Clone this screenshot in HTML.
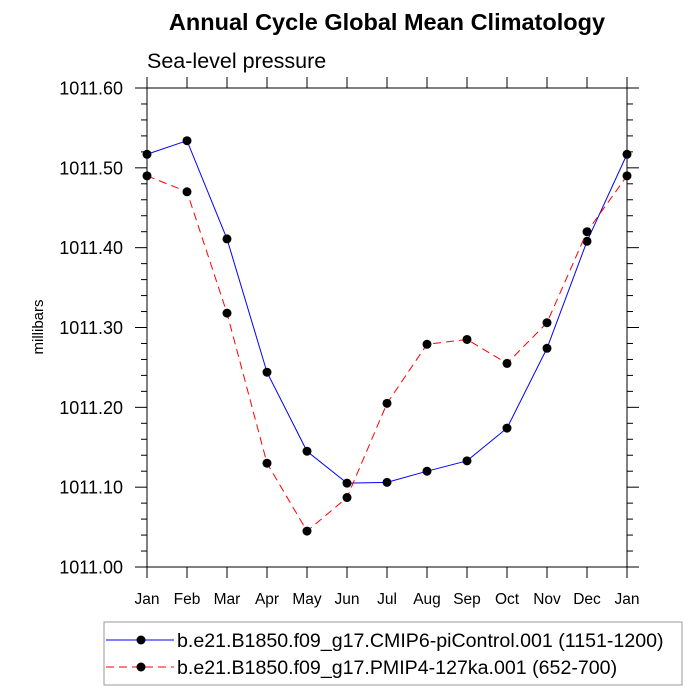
<!DOCTYPE html>
<html><head><meta charset="utf-8"><style>
body{margin:0;background:#fff;}
svg{display:block;font-family:"Liberation Sans",sans-serif;}
</style></head><body>
<svg id="chart" width="700" height="700">
<text x="387" y="30" text-anchor="middle" font-size="23.5" font-weight="bold">Annual Cycle Global Mean Climatology</text>
<text x="147" y="68" font-size="21.5">Sea-level pressure</text>
<text transform="translate(43,327) rotate(-90)" text-anchor="middle" font-size="15">millibars</text>
<g id="axes"></g>
<g id="series"></g>
<g>
<rect x="104" y="622" width="578" height="63" fill="none" stroke="#999" stroke-width="1"/>
<line x1="106" y1="640" x2="174" y2="640" stroke="#00f" stroke-width="1"/>
<circle cx="141" cy="640" r="4.5" fill="#000"/>
<text x="177" y="647" font-size="19.6">b.e21.B1850.f09_g17.CMIP6-piControl.001 (1151-1200)</text>
<line x1="106" y1="667" x2="174" y2="667" stroke="#f00" stroke-width="1" stroke-dasharray="8,5"/>
<circle cx="141" cy="667" r="4.5" fill="#000"/>
<text x="177" y="674" font-size="19.6">b.e21.B1850.f09_g17.PMIP4-127ka.001 (652-700)</text>
</g>
</svg>
<script>
const months=["Jan","Feb","Mar","Apr","May","Jun","Jul","Aug","Sep","Oct","Nov","Dec","Jan"];
const piControl=[1011.517,1011.534,1011.411,1011.244,1011.145,1011.105,1011.106,1011.120,1011.133,1011.174,1011.274,1011.408,1011.517];
const ka127=[1011.490,1011.470,1011.318,1011.130,1011.045,1011.087,1011.205,1011.279,1011.285,1011.255,1011.306,1011.420,1011.490];
const yTicks=[1011.00,1011.10,1011.20,1011.30,1011.40,1011.50,1011.60];
const X0=147,X1=627,Y0=567,Y1=88,YMIN=1011.0,YMAX=1011.6;
const xs=i=>X0+(X1-X0)*i/(months.length-1);
const ys=v=>Y0-(v-YMIN)/(YMAX-YMIN)*(Y0-Y1);
const NS="http://www.w3.org/2000/svg";
function mk(tag,at,parent){const e=document.createElementNS(NS,tag);for(const k in at)e.setAttribute(k,at[k]);parent.appendChild(e);return e;}
const ax=document.getElementById('axes');
const frame=mk('rect',{x:X0,y:Y1,width:X1-X0,height:Y0-Y1,fill:'none',stroke:'#000','stroke-width':1},ax);


months.forEach((m,i)=>{
  const x=xs(i);
  mk('line',{x1:x,y1:Y0,x2:x,y2:Y0+11,stroke:'#000'},ax);
  mk('line',{x1:x,y1:Y1,x2:x,y2:Y1-11,stroke:'#000'},ax);
  const t=mk('text',{x:x,y:Y0+37,'text-anchor':'middle','font-size':15.5},ax);
  t.textContent=m;
  
  
});
yTicks.forEach((v,i)=>{
  const y=ys(v);
  mk('line',{x1:X0-12,y1:y,x2:X0,y2:y,stroke:'#000'},ax);
  mk('line',{x1:X1,y1:y,x2:X1+12,y2:y,stroke:'#000'},ax);
  const t=mk('text',{x:X0-24,y:y+6.5,'text-anchor':'end','font-size':18},ax);
  t.textContent=v.toFixed(2);
  
  
  if(i<yTicks.length-1){for(let k=1;k<5;k++){const yy=ys(v+0.02*k);
    mk('line',{x1:X0-6,y1:yy,x2:X0,y2:yy,stroke:'#000'},ax);
    mk('line',{x1:X1,y1:yy,x2:X1+6,y2:yy,stroke:'#000'},ax);}}
});
const sg=document.getElementById('series');
function drawSeries(vals,color,dash,name){
  const pts=vals.map((v,i)=>xs(i)+','+ys(v)).join(' ');
  const pl=mk('polyline',{points:pts,fill:'none',stroke:color,'stroke-width':1,'stroke-dasharray':dash},sg);
  
  
  vals.forEach((v,i)=>{
    const c=mk('circle',{cx:xs(i),cy:ys(v),r:4.5,fill:'#000'},sg);
    
    
  });
}
drawSeries(piControl,'#00f','none','picontrol');
drawSeries(ka127,'#f00','8,5','pmip4-127ka');
</script>
</body></html>
